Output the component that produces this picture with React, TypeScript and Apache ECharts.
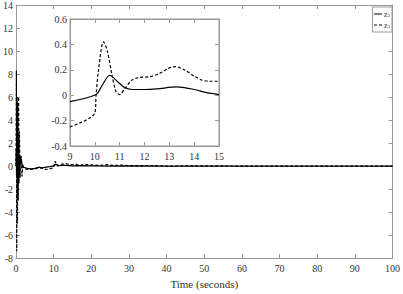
import React, { useEffect, useRef } from "react";
import * as echarts from "echarts";

const mainZ2T = [0, 0.05, 0.15, 0.25, 0.35, 0.45, 0.55, 0.7, 0.85, 1.0, 1.2, 1.4, 1.7, 2.0, 3, 4, 5, 6, 7, 8, 9, 10, 10.6, 11.4, 12, 13.3, 15, 17, 20, 25, 30, 40, 60, 80, 100];
const mainZ2V = [0, 1.5, -1.0, 1.2, -0.8, 1.3, 0.0, 0.9, -0.3, 0.8, 0.2, 0.6, -0.1, -0.1, -0.2, -0.25, -0.2, -0.1, -0.15, -0.1, -0.05, 0.01, 0.16, 0.04, 0.05, 0.06, 0.01, 0.03, 0.02, 0.0, 0.01, 0.0, 0.0, 0.0, 0.0];

const mainZ3T = [0, 0.1, 0.2, 0.3, 0.4, 0.5, 0.6, 0.7, 0.8, 0.9, 1.0, 1.1, 1.2, 1.4, 1.6, 1.8, 2.0, 2.5, 3, 4, 5, 6, 7, 8, 9, 10, 10.35, 11, 12, 13.2, 14.5, 15, 16, 17, 18, 20, 22, 24, 26, 28, 30, 35, 40, 50, 60, 70, 80, 90, 100];
const mainZ3V = [0, 8.3, -7.4, 6.0, -5.0, 5.5, -3.0, 6.0, -1.5, 3.0, 1.0, -1.0, 0.9, 0.8, -0.9, 0.2, -0.2, -0.25, -0.3, -0.3, -0.25, -0.15, -0.2, -0.3, -0.25, -0.14, 0.42, 0.0, 0.14, 0.22, 0.12, 0.11, 0.15, 0.05, 0.15, 0.1, 0.05, 0.12, 0.05, 0.08, 0.03, 0.05, 0.0, 0.02, 0.0, 0.0, 0.0, 0.0, 0.0];

const insetZ2T = [9, 10.05, 10.3, 10.6, 10.9, 11.2, 11.5, 12, 12.5, 13.3, 14, 14.5, 15];
const insetZ2V = [-0.05, 0.005, 0.08, 0.157, 0.11, 0.06, 0.045, 0.045, 0.05, 0.065, 0.045, 0.02, 0.005];

const insetZ3T = [9, 10, 10.05, 10.15, 10.35, 10.5, 10.7, 10.85, 11.0, 11.2, 11.5, 11.8, 12.2, 12.6, 13.0, 13.25, 13.6, 14.0, 14.3, 14.6, 15];
const insetZ3V = [-0.25, -0.14, 0.0, 0.2, 0.42, 0.35, 0.15, 0.03, 0.005, 0.05, 0.12, 0.14, 0.145, 0.17, 0.215, 0.225, 0.2, 0.15, 0.12, 0.11, 0.11];

const mainXTicks = [0, 100, 10];
const mainYTicks = [-8, 14, 2];
const insetXTicks = [9, 15, 1];
const insetYTicks = [-0.4, 0.6, 0.2];

const zip = (t: number[], v: number[]) => t.map((x, i) => [x, v[i]]);

const FONT = "Liberation Serif";
const AX = "#999999";
const TXT = "#333333";

export default function App() {
  const ref = useRef<HTMLDivElement>(null);
  useEffect(() => {
    const chart = echarts.init(ref.current!, undefined, { renderer: "svg" });
    const label = { fontFamily: FONT, fontSize: 10, color: TXT, fontWeight: "normal" };
    const mkX = (grid: number, r: number[], pos: "bottom" | "top", show: boolean, extra: any = {}) => ({
      type: "value",
      gridIndex: grid,
      min: r[0],
      max: r[1],
      interval: r[2],
      position: pos,
      axisLine: { show: true, onZero: false, lineStyle: { color: AX, width: 1 } },
      axisTick: { show: true, inside: true, length: 4, lineStyle: { color: AX } },
      axisLabel: { show, ...label, margin: 5 },
      splitLine: { show: false },
      ...extra,
    });
    const mkY = (grid: number, r: number[], pos: "left" | "right", show: boolean, fmt?: any) => ({
      type: "value",
      gridIndex: grid,
      min: r[0],
      max: r[1],
      interval: r[2],
      position: pos,
      axisLine: { show: true, onZero: false, lineStyle: { color: AX, width: 1 } },
      axisTick: { show: true, inside: true, length: 4, lineStyle: { color: AX } },
      axisLabel: { show, ...label, margin: 3, formatter: fmt },
      splitLine: { show: false },
    });
    const solid = { color: "#000", width: 1.2, type: "solid" as const };
    const dashed = { color: "#000", width: 1.2, type: [3, 2] as any };
    const fmtInset = (v: number) => {
      const r = Math.round(v * 10) / 10;
      return r === 0 ? "0" : r.toFixed(1);
    };
    chart.setOption({
      animation: false,
      backgroundColor: "#fff",
      textStyle: { fontFamily: FONT },
      grid: [
        { left: 11, top: 4, width: 385, height: 259, show: false },
        { left: 70, top: 19, width: 149, height: 127, show: true, backgroundColor: "#fff", borderColor: AX, borderWidth: 1, z: 5 },
      ],
      xAxis: [
        mkX(0, mainXTicks, "bottom", true, {
          name: "Time (seconds)",
          nameLocation: "middle",
          nameGap: 19,
          nameTextStyle: { fontFamily: FONT, fontSize: 11, color: TXT, fontWeight: "normal" },
        }),
        mkX(0, mainXTicks, "top", false),
        { ...mkX(1, insetXTicks, "bottom", true), z: 6 },
        { ...mkX(1, insetXTicks, "top", false), z: 6 },
      ],
      yAxis: [
        mkY(0, mainYTicks, "left", true),
        mkY(0, mainYTicks, "right", false),
        { ...mkY(1, insetYTicks, "left", true, fmtInset), z: 6 },
        { ...mkY(1, insetYTicks, "right", false), z: 6 },
      ],
      legend: {
        data: ["z2", "z3"],
        orient: "vertical",
        right: 11,
        top: 7,
        itemWidth: 8,
        itemHeight: 8,
        itemGap: 3,
        padding: [3, 2, 3, 1],
        borderColor: AX,
        borderWidth: 1,
        borderRadius: 0,
        backgroundColor: "#fff",
        itemStyle: { opacity: 0 },
        lineStyle: { width: 1 },
        formatter: (n: string) => `{a|z}{b|${n.slice(1)}}`,
        textStyle: {
          fontFamily: FONT,
          fontSize: 8,
          color: TXT,
          padding: [0, 0, 0, -3],
          rich: {
            a: { fontFamily: FONT, fontSize: 8, color: TXT },
            b: { fontFamily: FONT, fontSize: 5, color: TXT, verticalAlign: "bottom", padding: [3, 0, 0, 0] },
          },
        },
      },
      series: [
        { name: "z2", type: "line", xAxisIndex: 0, yAxisIndex: 0, data: zip(mainZ2T, mainZ2V), symbol: "none", lineStyle: solid, itemStyle: { color: "#000" }, z: 2 },
        { name: "z3", type: "line", xAxisIndex: 0, yAxisIndex: 0, data: zip(mainZ3T, mainZ3V), symbol: "none", lineStyle: dashed, itemStyle: { color: "#000" }, z: 2 },
        { name: "z2", type: "line", xAxisIndex: 2, yAxisIndex: 2, data: zip(insetZ2T, insetZ2V), symbol: "none", smooth: 0.3, lineStyle: solid, itemStyle: { color: "#000" }, z: 7 },
        { name: "z3", type: "line", xAxisIndex: 2, yAxisIndex: 2, data: zip(insetZ3T, insetZ3V), symbol: "none", smooth: 0.3, lineStyle: dashed, itemStyle: { color: "#000" }, z: 7 },
      ],
    } as any);
    return () => chart.dispose();
  }, []);
  return <div ref={ref} style={{ position: "absolute", left: 0, top: 0, width: 403, height: 294 }} />;
}
